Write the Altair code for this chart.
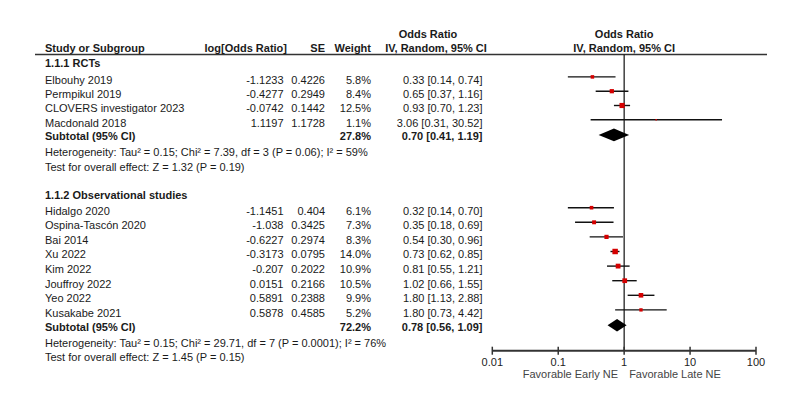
import altair as alt
import pandas as pd

# ---------------- data ----------------
rct_names = ["Elbouhy 2019", "Permpikul 2019", "CLOVERS investigator 2023", "Macdonald 2018"]
rct_logor = [-1.1233, -0.4277, -0.0742, 1.1197]
rct_se = [0.4226, 0.2949, 0.1442, 1.1728]
rct_weight = [5.8, 8.4, 12.5, 1.1]
rct_or = [0.33, 0.65, 0.93, 3.06]
rct_lo = [0.14, 0.37, 0.70, 0.31]
rct_hi = [0.74, 1.16, 1.23, 30.52]
rct_sub = {"weight": 27.8, "or": 0.70, "lo": 0.41, "hi": 1.19}
rct_het = "Heterogeneity: Tau² = 0.15; Chi² = 7.39, df = 3 (P = 0.06); I² = 59%"
rct_test = "Test for overall effect: Z = 1.32 (P = 0.19)"

obs_names = ["Hidalgo 2020", "Ospina-Tascón 2020", "Bai 2014", "Xu 2022", "Kim 2022",
             "Jouffroy 2022", "Yeo 2022", "Kusakabe 2021"]
obs_logor = [-1.1451, -1.038, -0.6227, -0.3173, -0.207, 0.0151, 0.5891, 0.5878]
obs_se = [0.404, 0.3425, 0.2974, 0.0795, 0.2022, 0.2166, 0.2388, 0.4585]
obs_weight = [6.1, 7.3, 8.3, 14.0, 10.9, 10.5, 9.9, 5.2]
obs_or = [0.32, 0.35, 0.54, 0.73, 0.81, 1.02, 1.80, 1.80]
obs_lo = [0.14, 0.18, 0.30, 0.62, 0.55, 0.66, 1.13, 0.73]
obs_hi = [0.70, 0.69, 0.96, 0.85, 1.21, 1.55, 2.88, 4.42]
obs_sub = {"weight": 72.2, "or": 0.78, "lo": 0.56, "hi": 1.09}
obs_het = "Heterogeneity: Tau² = 0.15; Chi² = 29.71, df = 7 (P = 0.0001); I² = 76%"
obs_test = "Test for overall effect: Z = 1.45 (P = 0.15)"

tick_values = [0.01, 0.1, 1, 10, 100]
tick_labels = ["0.01", "0.1", "1", "10", "100"]
left_label = "Favorable Early NE"
right_label = "Favorable Late NE"

# ---------------- layout (pixels inside the chart) ----------------
W, H = 790, 390
FONT = "Liberation Sans"
FS = 11
TXT = "#1a1a1a"
X_NAME, X_LOG, X_SE, X_W, X_CI = 37, 275.5, 317, 363, 474.5
X_LOG_H = 279
OR_RANGE = [484.3, 748]
Y_TOP_HDR, Y_HDR, Y_LINE = 26.5, 41, 46.5
Y_AXIS = 342.7
MARK_SHIFT = -3.8

groups = [
    dict(head="1.1.1 RCTs", y_head=55.5, y_first=72.7, step=14.3,
         names=rct_names, logor=rct_logor, se=rct_se, w=rct_weight, o=rct_or, lo=rct_lo, hi=rct_hi,
         sub=rct_sub, het=rct_het, test=rct_test),
    dict(head="1.1.2 Observational studies", y_head=187.5, y_first=203.5, step=14.6,
         names=obs_names, logor=obs_logor, se=obs_se, w=obs_weight, o=obs_or, lo=obs_lo, hi=obs_hi,
         sub=obs_sub, het=obs_het, test=obs_test),
]

cells = []   # text cells: col, text, y, bold
forest = []  # study estimates
diam = []    # diamond polygons
for gi, g in enumerate(groups):
    cells.append(dict(col="name", text=g["head"], y=g["y_head"], bold=True))
    n = len(g["names"])
    for i in range(n):
        y = g["y_first"] + i * g["step"]
        cells.append(dict(col="name", text=g["names"][i], y=y, bold=False))
        cells.append(dict(col="log", text=str(g["logor"][i]), y=y, bold=False))
        cells.append(dict(col="se", text=str(g["se"][i]), y=y, bold=False))
        cells.append(dict(col="w", text=f"{g['w'][i]:.1f}%", y=y, bold=False))
        cells.append(dict(col="ci", text=f"{g['o'][i]:.2f} [{g['lo'][i]:.2f}, {g['hi'][i]:.2f}]", y=y, bold=False))
        forest.append(dict(o=g["o"][i], lo=g["lo"][i], hi=g["hi"][i], w=g["w"][i], y=y + MARK_SHIFT))
    ys = g["y_first"] + n * g["step"] - 0.5
    s = g["sub"]
    cells.append(dict(col="name", text="Subtotal (95% CI)", y=ys, bold=True))
    cells.append(dict(col="w", text=f"{s['weight']:.1f}%", y=ys, bold=True))
    cells.append(dict(col="ci", text=f"{s['or']:.2f} [{s['lo']:.2f}, {s['hi']:.2f}]", y=ys, bold=True))
    cells.append(dict(col="name", text=g["het"], y=ys + 16, bold=False))
    cells.append(dict(col="name", text=g["test"], y=ys + 30.5, bold=False))
    yd = ys - 2.5
    for xv, dy in [(s["lo"], 0), (s["or"], 6.3), (s["hi"], 0)]:
        diam.append(dict(g=gi, x=xv, y=yd - dy, y2=yd + dy))

cells = pd.DataFrame(cells)
forest = pd.DataFrame(forest)
diam = pd.DataFrame(diam)

xs = alt.Scale(type="log", domain=[0.01, 100], range=OR_RANGE, nice=False)
ysc = alt.Scale(domain=[0, H], range=[0, H], nice=False, zero=False)


def text_layer(df, x, align, bold, color=TXT):
    return alt.Chart(df).mark_text(
        align=align, baseline="middle", font=FONT, fontSize=FS,
        fontWeight="bold" if bold else "normal", color=color
    ).encode(x=alt.value(x), y=alt.Y("y:Q", scale=ysc, axis=None), text="text:N")


layers = []
colpos = {"name": (X_NAME, "left"), "log": (X_LOG, "right"), "se": (X_SE, "right"),
          "w": (X_W, "right"), "ci": (X_CI, "right")}
for col, (x, al) in colpos.items():
    for b in (False, True):
        sub = cells[(cells.col == col) & (cells.bold == b)]
        if len(sub):
            layers.append(text_layer(sub, x, al, b))

# headers
hdr = pd.DataFrame([
    dict(text="Study or Subgroup", x=X_NAME, al="left", y=Y_HDR),
    dict(text="log[Odds Ratio]", x=X_LOG_H, al="right", y=Y_HDR),
    dict(text="SE", x=X_SE, al="right", y=Y_HDR),
    dict(text="Weight", x=X_W, al="right", y=Y_HDR),
    dict(text="IV, Random, 95% CI", x=428, al="center", y=Y_HDR),
    dict(text="Odds Ratio", x=420, al="center", y=Y_TOP_HDR),
])
for _, r in hdr.iterrows():
    layers.append(text_layer(pd.DataFrame([r]), r["x"], r["al"], True))

# forest-side headers centred on OR = 1
fh = pd.DataFrame([dict(v=1, text="Odds Ratio", y=Y_TOP_HDR), dict(v=1, text="IV, Random, 95% CI", y=Y_HDR)])
layers.append(alt.Chart(fh).mark_text(align="center", baseline="middle", font=FONT, fontSize=FS,
                                      fontWeight="bold", color=TXT).encode(
    x=alt.X("v:Q", scale=xs, axis=None), y=alt.Y("y:Q", scale=ysc, axis=None), text="text:N"))

one = pd.DataFrame([{"v": 1}])
# header rule
layers.append(alt.Chart(one).mark_rule(color="#333333", strokeWidth=1.3).encode(
    x=alt.value(27), x2=alt.value(759), y=alt.value(Y_LINE)))
# vertical line at OR = 1
layers.append(alt.Chart(one).mark_rule(color="#111111", strokeWidth=1.2).encode(
    x=alt.X("v:Q", scale=xs, axis=None), y=alt.value(Y_LINE), y2=alt.value(Y_AXIS)))

# CI lines
layers.append(alt.Chart(forest).mark_rule(color="#111111", strokeWidth=1.4).encode(
    x=alt.X("lo:Q", scale=xs, axis=None), x2="hi:Q", y=alt.Y("y:Q", scale=ysc, axis=None)))
# squares
layers.append(alt.Chart(forest).mark_square(color="#d40000", opacity=1).encode(
    x=alt.X("o:Q", scale=xs, axis=None), y=alt.Y("y:Q", scale=ysc, axis=None),
    size=alt.Size("w:Q", scale=alt.Scale(domain=[0, 15], range=[0, 32]), legend=None)))
# diamonds
layers.append(alt.Chart(diam).mark_area(color="#000000", orient="vertical", opacity=1).encode(
    x=alt.X("x:Q", scale=xs, axis=None), y=alt.Y("y:Q", scale=ysc, axis=None), y2="y2:Q",
    detail="g:N"))

# axis
ax = pd.DataFrame({"v": tick_values, "lab": tick_labels})
layers.append(alt.Chart(pd.DataFrame([{"a": 0.01, "b": 100}])).mark_rule(color="#333333", strokeWidth=2).encode(
    x=alt.X("a:Q", scale=xs, axis=None), x2="b:Q", y=alt.value(Y_AXIS)))
layers.append(alt.Chart(ax).mark_rule(color="#333333", strokeWidth=1.5).encode(
    x=alt.X("v:Q", scale=xs, axis=None), y=alt.value(Y_AXIS - 4), y2=alt.value(Y_AXIS + 4)))
layers.append(alt.Chart(ax).mark_text(align="center", baseline="middle", font=FONT, fontSize=FS,
                                      color="#222222").encode(
    x=alt.X("v:Q", scale=xs, axis=None), y=alt.value(Y_AXIS + 12), text="lab:N"))
fav = pd.DataFrame([{"v": 1, "t": left_label}])
fav2 = pd.DataFrame([{"v": 1, "t": right_label}])
layers.append(alt.Chart(fav).mark_text(align="right", baseline="middle", font=FONT, fontSize=FS,
                                       color="#444444", dx=-6).encode(
    x=alt.X("v:Q", scale=xs, axis=None), y=alt.value(Y_AXIS + 24), text="t:N"))
layers.append(alt.Chart(fav2).mark_text(align="left", baseline="middle", font=FONT, fontSize=FS,
                                        color="#444444", dx=5).encode(
    x=alt.X("v:Q", scale=xs, axis=None), y=alt.value(Y_AXIS + 24), text="t:N"))

chart = alt.layer(*layers).properties(
    width=W, height=H, padding=0, autosize=alt.AutoSizeParams(type="none"),
    background="white"
).configure_view(stroke=None)

chart.save("out.html", embed_options={"renderer": "svg", "actions": False})
